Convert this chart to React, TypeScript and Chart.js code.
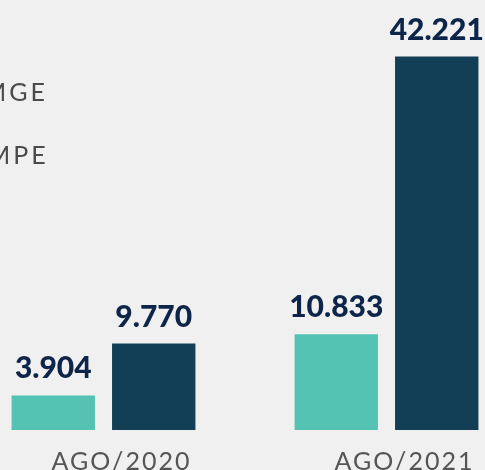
import React, { useEffect, useRef } from "react";
import { Chart, registerables } from "chart.js";

Chart.register(...registerables);

const categories = ["AGO/2020", "AGO/2021"];
const seriesNames = ["MGE", "MPE"];
const mgeValues = [3904, 10833];
const mpeValues = [9770, 42221];
const seriesColors = ["#54c3b4", "#123f56"];

function fmt(v: number): string {
  return String(v).replace(/\B(?=(\d{3})+(?!\d))/g, ".");
}

const OFFSET_X = -38;

const customPlugin = {
  id: "custom",
  beforeDraw(chart: any) {
    const ctx = chart.ctx;
    ctx.save();
    ctx.fillStyle = "#f0f0f0";
    ctx.fillRect(0, 0, chart.width, chart.height);
    ctx.restore();
    ctx.letterSpacing = "2px";
  },
  beforeDatasetsDraw(chart: any) {
    chart.ctx.letterSpacing = "0px";
  },
  afterDatasetsDraw(chart: any) {
    const ctx = chart.ctx;
    ctx.save();
    ctx.letterSpacing = "0px";
    ctx.font = "900 30px Lato";
    ctx.fillStyle = "#0d2549";
    ctx.textAlign = "center";
    ctx.textBaseline = "alphabetic";
    chart.data.datasets.forEach((ds: any, di: number) => {
      const meta = chart.getDatasetMeta(di);
      meta.data.forEach((el: any, i: number) => {
        ctx.fillText(fmt(ds.data[i]), el.x, el.y - 17);
      });
    });
    // legend
    ctx.font = "25px Lato";
    ctx.letterSpacing = "3px";
    ctx.fillStyle = "#4a4a4a";
    ctx.textAlign = "left";
    const legendY = [101, 164];
    const legendX = [-17, -13];
    chart.data.datasets.forEach((ds: any, di: number) => {
      ctx.fillText(ds.label, legendX[di] - OFFSET_X, legendY[di]);
    });
    ctx.restore();
  },
};

export default function App() {
  const ref = useRef<HTMLCanvasElement | null>(null);
  useEffect(() => {
    if (!ref.current) return;
    const chart = new Chart(ref.current, {
      type: "bar",
      data: {
        labels: categories,
        datasets: [
          {
            label: seriesNames[0],
            data: mgeValues,
            backgroundColor: seriesColors[0],
            categoryPercentage: 0.71,
            barPercentage: 0.83,
          },
          {
            label: seriesNames[1],
            data: mpeValues,
            backgroundColor: seriesColors[1],
            categoryPercentage: 0.71,
            barPercentage: 0.83,
          },
        ],
      },
      options: {
        animation: false,
        responsive: false,
        maintainAspectRatio: false,
        layout: { padding: { top: 32, left: 0, right: 0, bottom: 0 } },
        plugins: { legend: { display: false }, tooltip: { enabled: false } },
        scales: {
          x: {
            grid: { display: false },
            border: { display: false },
            ticks: {
              color: "#555555",
              font: { family: "Lato", size: 25 },
              padding: 9,
              labelOffset: 18,
              maxRotation: 0,
            },
          },
          y: { display: false, min: 0, max: 45000 },
        },
      },
      plugins: [customPlugin],
    });
    return () => chart.destroy();
  }, []);
  return (
    <div
      style={{
        position: "fixed",
        left: 0,
        top: 0,
        width: 485,
        height: 470,
        overflow: "hidden",
        background: "#f0f0f0",
      }}
    >
      <canvas
        ref={ref}
        width={566}
        height={486}
        style={{ position: "absolute", left: OFFSET_X, top: 0, width: 566, height: 486 }}
      />
    </div>
  );
}
